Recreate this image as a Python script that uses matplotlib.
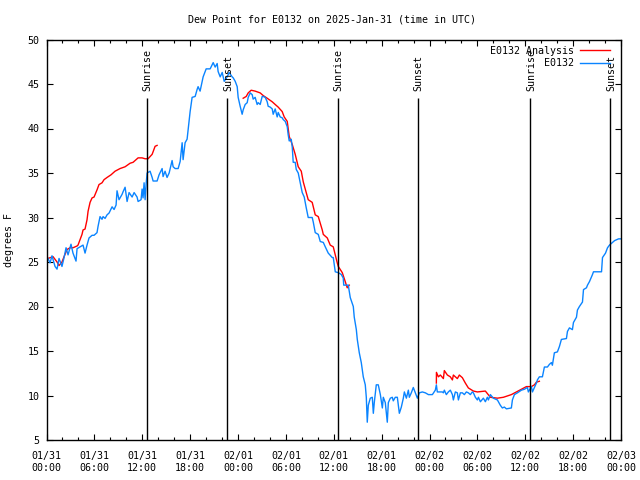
import numpy as np
import matplotlib
matplotlib.use("Agg")
import matplotlib.pyplot as plt
from matplotlib.lines import Line2D

# ---- data (hours since 2025-01-31 00:00 UTC, dew point in F) ----
obs_hours = [0.19, 0.44, 0.69, 1.07, 1.32, 1.57, 1.94, 2.20, 2.45, 2.70, 3.07, 3.32, 3.70, 3.83, 4.20,
             4.58, 4.83, 5.08, 5.33, 5.71, 5.96, 6.33, 6.46, 6.71, 6.96, 7.09, 7.34, 7.59, 7.84, 8.22,
             8.47, 8.72, 8.84, 9.09, 9.47, 9.60, 9.85, 10.10, 10.35, 10.73, 10.98, 11.35, 11.48, 11.85,
             11.98, 12.10, 12.23, 12.36, 12.48, 12.61, 12.98, 13.24, 13.36, 13.86, 14.11, 14.49, 14.61,
             14.86, 15.11, 15.37, 15.74, 15.87, 16.12, 16.50, 16.75, 17.00, 17.12, 17.37, 17.62, 17.75,
             18.00, 18.25, 18.63, 18.88, 19.00, 19.25, 19.51, 19.63, 20.01, 20.51, 20.89, 21.14, 21.39,
             21.51, 21.77, 22.02, 22.27, 22.64, 22.89, 23.27, 23.39, 23.65, 23.90, 24.02, 24.27, 24.52,
             24.65, 24.90, 25.15, 25.28, 25.53, 25.78, 25.90, 26.15, 26.40, 26.53, 26.78, 27.03, 27.16,
             27.41, 27.66, 27.78, 28.04, 28.29, 28.41, 28.66, 28.91, 29.04, 29.29, 29.54, 29.67, 29.92,
             30.17, 30.29, 30.42, 30.67, 30.80, 30.92, 31.17, 31.30, 31.55, 31.80, 32.05, 32.30, 32.55,
             32.80, 33.30, 33.43, 33.68, 34.06, 34.31, 34.69, 34.94, 35.31, 35.81, 35.94, 36.19, 36.57,
             36.94, 37.19, 37.25, 37.82, 38.07, 38.45, 38.57, 38.83, 38.95, 39.20, 39.45, 39.70, 39.95,
             40.08, 40.20, 40.33, 40.58, 40.83, 40.96, 41.08, 41.21, 41.33, 41.58, 41.84, 42.09, 42.21,
             42.46, 42.71, 42.84, 43.09, 43.34, 43.46, 43.71, 43.97, 44.22, 44.47, 44.72, 44.85, 45.10,
             45.35, 45.47, 45.72, 45.97, 46.23, 46.48, 46.73, 47.10, 47.48, 47.86, 48.36, 48.73, 48.86,
             48.98, 49.36, 49.61, 49.74, 49.86, 50.11, 50.36, 50.61, 50.87, 50.99, 51.24, 51.49, 51.62,
             51.87, 52.12, 52.37, 52.62, 52.87, 53.12, 53.37, 53.50, 53.75, 54.00, 54.13, 54.38, 54.75,
             55.00, 55.25, 55.38, 55.63, 56.00, 56.51, 56.88, 57.13, 57.38, 57.64, 58.26, 58.39, 58.64,
             59.02, 59.52, 59.89, 60.27, 60.39, 60.77, 60.90, 61.15, 61.40, 61.52, 61.77, 62.15, 62.40,
             62.78, 63.03, 63.28, 63.40, 63.65, 64.03, 64.28, 64.53, 65.16, 65.29, 65.54, 65.91, 66.04,
             66.42, 66.54, 66.79, 67.17, 67.30, 67.67, 67.80, 68.05, 68.43, 68.55, 69.56, 69.68, 70.06,
             70.31, 70.56, 70.94, 71.19, 71.69, 71.94]
obs_vals = [25.4, 24.9, 25.7, 24.5, 24.2, 25.4, 24.5, 25.5, 26.6, 25.8, 27.0, 26.0, 25.1, 26.5, 26.7,
            26.9, 26.0, 26.9, 27.7, 28.0, 28.0, 28.3, 29.0, 30.1, 29.8, 30.1, 29.9, 30.3, 30.5, 31.2,
            30.9, 31.4, 33.0, 32.0, 32.6, 32.9, 33.4, 31.8, 32.8, 32.3, 32.8, 32.3, 31.8, 32.0,
            33.2, 32.2, 33.9, 32.0, 33.7, 35.0, 35.2, 34.5, 34.1, 34.1, 34.8, 35.5, 34.6,
            35.2, 34.5, 35.0, 36.4, 35.7, 35.5, 35.5, 36.3, 38.4, 36.5, 38.4, 38.8, 39.9,
            41.9, 43.5, 43.6, 44.4, 44.7, 44.2, 45.3, 45.8, 46.7, 46.7, 47.4, 46.9, 47.3,
            46.4, 45.8, 46.3, 45.3, 45.8, 46.3, 45.8, 45.7, 45.3, 44.7, 43.5, 42.5, 41.6,
            42.1, 42.7, 42.9, 43.5, 44.0, 43.8, 43.3, 43.5, 42.7, 42.9, 42.7, 43.6, 43.6,
            43.5, 43.0, 42.5, 42.4, 42.2, 41.6, 42.2, 41.3, 41.8, 41.3, 41.2, 41.0, 40.8,
            40.2, 39.3, 38.6, 38.8, 37.9, 36.2, 36.2, 35.4, 35.0, 33.9, 32.8, 32.3, 31.1,
            30.0, 30.0, 29.5, 28.3, 28.1, 27.3, 27.2, 26.7, 26.0, 25.5, 25.5, 23.9, 23.8,
            23.6, 23.2, 22.4, 22.4, 21.0, 20.0, 18.8, 17.4, 16.3, 14.8, 13.7, 12.1, 11.2,
            9.8, 7.0, 8.9, 9.7, 9.8, 8.0, 9.2, 10.3, 11.2, 11.2, 10.1, 8.6, 9.8,
            9.2, 7.0, 9.2, 9.7, 9.8, 9.4, 9.8, 9.8, 8.0, 8.7, 9.7, 10.4, 9.7,
            10.6, 9.8, 10.3, 10.9, 10.3, 9.7, 10.3, 10.4, 10.3, 10.1, 10.1, 10.6, 11.2,
            10.4, 10.4, 10.4, 10.3, 10.6, 10.1, 10.4, 10.6, 10.1, 9.5, 10.4, 10.3, 9.5,
            10.3, 10.3, 10.1, 10.4, 10.3, 10.1, 10.4, 10.3, 9.8, 9.5, 9.8, 9.3, 9.7,
            9.3, 9.8, 9.5, 10.1, 9.7, 9.5, 8.9, 8.6, 8.7, 8.5, 8.6, 9.5, 10.1,
            10.3, 10.6, 10.7, 10.9, 10.4, 11.0, 10.4, 10.9, 11.4, 11.75, 12.1, 12.1, 13.2,
            13.2, 13.5, 13.7, 13.4, 14.8, 14.9, 15.5, 16.3, 16.4, 17.2, 17.6, 17.4, 18.2,
            18.8, 19.6, 20.0, 20.5, 21.9, 22.1, 22.4, 22.8, 23.6, 23.9, 23.9, 25.5, 26.0,
            26.6, 26.9, 27.2, 27.4, 27.6, 27.6]

ana_hours = [0.19, 0.82, 1.32, 1.57, 1.94, 2.20, 2.57, 2.95, 3.32, 3.83, 3.95, 4.20, 4.45, 4.58, 4.83,
             5.08, 5.21, 5.46, 5.71, 5.96, 6.33, 6.58, 6.96, 7.21, 7.59, 8.09, 8.59, 9.22, 9.85, 10.48,
             10.85, 11.48, 11.98, 12.36, 12.73, 13.24, 13.61, 13.86,
             np.nan,
             24.65, 25.03, 25.28, 25.65, 26.15, 26.78, 27.16, 27.66, 28.29, 28.66, 29.04, 29.54, 29.79,
             30.17, 30.42, 30.80, 31.17, 31.55, 31.93, 32.18, 32.55, 32.80, 33.30, 33.68, 34.06, 34.56,
             34.69, 35.19, 35.56, 35.94, 36.19, 36.44, 36.57, 37.07, 37.44, 37.69, 37.94,
             np.nan,
             48.86, 48.87, 49.11, 49.36, 49.74, 49.86, 50.24, 50.61, 50.87, 50.99, 51.49, 51.74, 52.12,
             52.49, 52.87, 53.50, 54.00, 55.00, 55.63, 56.51, 57.26, 57.76, 58.26, 58.89, 59.52, 60.14,
             60.77, 61.15, 61.40, 61.77]
ana_vals = [25.4, 25.6, 25.0, 24.6, 25.0, 25.6, 26.4, 26.6, 26.6, 26.8, 26.9, 27.5, 28.1, 28.6, 28.7,
            29.75, 30.7, 31.7, 32.2, 32.3, 33.1, 33.7, 33.9, 34.25, 34.5, 34.8, 35.2, 35.5, 35.7, 36.1,
            36.2, 36.7, 36.7, 36.6, 36.6, 37.1, 38.0, 38.1,
            np.nan,
            43.4, 43.6, 44.0, 44.3, 44.2, 44.0, 43.7, 43.4, 43.0, 42.7, 42.4, 41.9, 41.3,
            40.8, 39.1, 38.2, 37.1, 35.7, 35.2, 34.0, 32.8, 32.0, 31.7, 30.3, 30.1, 28.6,
            28.1, 27.7, 26.9, 26.7, 25.8, 24.9, 24.5, 23.8, 22.8, 22.1, 22.4,
            np.nan,
            11.4, 12.6, 12.1, 12.3, 11.9, 12.8, 12.3, 12.1, 11.75, 12.3, 11.9, 12.3, 12.0,
            11.4, 10.85, 10.5, 10.4, 10.5, 9.8, 9.7, 9.8, 9.95, 10.1, 10.4, 10.7, 11.0,
            11.0, 11.2, 11.5, 11.6]

sun_hours = [12.55, 22.60, 36.48, 46.51, 60.56, 70.60]
sun_labels = ["Sunrise", "Sunset", "Sunrise", "Sunset", "Sunrise", "Sunset"]

xtick_hours = [0, 6, 12, 18, 24, 30, 36, 42, 48, 54, 60, 66, 72]
xtick_labels = ["01/31\n00:00", "01/31\n06:00", "01/31\n12:00", "01/31\n18:00",
                "02/01\n00:00", "02/01\n06:00", "02/01\n12:00", "02/01\n18:00",
                "02/02\n00:00", "02/02\n06:00", "02/02\n12:00", "02/02\n18:00",
                "02/03\n00:00"]
yticks = [5, 10, 15, 20, 25, 30, 35, 40, 45, 50]

title = "Dew Point for E0132 on 2025-Jan-31 (time in UTC)"

# ---- style ----
plt.rcParams['font.family'] = ['DejaVu Sans Mono']
FS = 7.2
RED = '#ff0000'
BLUE = '#0a84ff'

fig = plt.figure(figsize=(6.4, 4.8), dpi=100)
ax = fig.add_axes([46.5 / 640, 40 / 480, (621 - 46.5) / 640, (440 - 39.5) / 480])

ax.plot(ana_hours, ana_vals, color=RED, lw=1.0)
ax.plot(obs_hours, obs_vals, color=BLUE, lw=1.0)

for h, lab in zip(sun_hours, sun_labels):
    ax.vlines(h, 5, 43.4, color='black', lw=1.0)
    ax.text(h + 0.15, 44.2, lab, rotation=90, ha='center', va='bottom', fontsize=FS)

ax.set_xlim(0, 72)
ax.set_ylim(5, 50)
ax.set_xticks(xtick_hours)
ax.set_xticklabels(xtick_labels, fontsize=FS, linespacing=1.25)
ax.set_xticks(np.arange(0, 73, 2), minor=True)
ax.set_yticks(yticks)
ax.set_yticklabels([str(v) for v in yticks], fontsize=FS)
ax.tick_params(axis='both', which='major', direction='in', length=4, width=0.8,
               top=True, right=True, pad=5)
ax.tick_params(axis='x', which='minor', direction='in', length=2.2, width=0.8, top=True)
ax.tick_params(axis='x', which='major', pad=8)
for s in ax.spines.values():
    s.set_linewidth(1.0)

ax.set_ylabel("degrees F", fontsize=FS)
ax.yaxis.set_label_coords(-0.056, 0.5)
fig.text(332 / 640, 1 - 19 / 480, title, ha='center', va='center', fontsize=FS)

handles = [Line2D([], [], color=RED, lw=1.0), Line2D([], [], color=BLUE, lw=1.0)]
ax.legend(handles, ["E0132 Analysis", "E0132"], loc='upper right', bbox_to_anchor=(0.981, 0.985),
          frameon=False, markerfirst=False, fontsize=FS, handlelength=3.0, handletextpad=0.6,
          borderpad=0, borderaxespad=0, labelspacing=0.27)

fig.savefig("out.png", dpi=100)
